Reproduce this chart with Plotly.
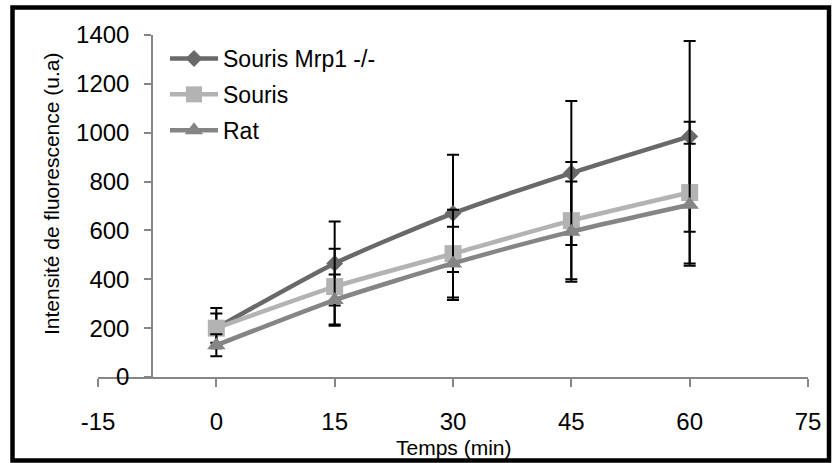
import plotly.graph_objects as go

# ---- data ----
temps = [0, 15, 30, 45, 60]

series_names = ["Souris Mrp1 -/-", "Souris", "Rat"]
mrp1_vals = [200, 465, 670, 835, 985]
mrp1_err = [82, 172, 240, 295, 390]
souris_vals = [200, 370, 505, 640, 755]
souris_err = [60, 155, 180, 240, 290]
rat_vals = [130, 315, 465, 595, 705]
rat_err = [45, 105, 150, 205, 250]

x_tick_vals = [-15, 0, 15, 30, 45, 60, 75]
x_tick_text = ["-15", "0", "15", "30", "45", "60", "75"]
y_tick_vals = [0, 200, 400, 600, 800, 1000, 1200, 1400]

x_title = "Temps (min)"
y_title = "Intensité de fluorescence (u.a)"

# ---- styles ----
FONT = "Liberation Sans, Arial, sans-serif"
colors = ["#696969", "#b3b3b3", "#858585"]
symbols = ["diamond", "square", "triangle-up"]
msizes = [13, 17, 16]
values = [mrp1_vals, souris_vals, rat_vals]
errors = [mrp1_err, souris_err, rat_err]

W, H = 832, 463
ML, MR, MT, MB = 98, 24, 35, 86
pw = W - ML - MR
ph = H - MT - MB


def px_x(p):
    return (p - ML) / pw


def px_y(p):
    return (H - MB - p) / ph


fig = go.Figure()
for i in range(3):
    fig.add_trace(go.Scatter(
        x=temps, y=values[i], name=series_names[i],
        mode="lines+markers",
        line=dict(color=colors[i], width=4.5, shape="spline", smoothing=0.6),
        marker=dict(symbol=symbols[i], size=msizes[i], color=colors[i], line=dict(width=0)),
        error_y=dict(type="data", array=errors[i], visible=True,
                     color="black", thickness=2, width=6),
        legendgroup=f"g{i}",
    ))

fig.update_layout(
    width=W, height=H,
    margin=dict(l=ML, r=MR, t=MT, b=MB, autoexpand=False),
    paper_bgcolor="white", plot_bgcolor="white",
    font=dict(family=FONT, size=24, color="black"),
    showlegend=True,
    legend=dict(x=px_x(165), y=px_y(37), xanchor="left", yanchor="top",
                bgcolor="rgba(0,0,0,0)", font=dict(size=23),
                itemwidth=48, tracegroupgap=3),
    xaxis=dict(range=[-15, 75], tickmode="array", tickvals=x_tick_vals, ticktext=x_tick_text,
               showgrid=False, zeroline=False, showline=True, linecolor="#868686", linewidth=1.5,
               ticks="outside", ticklen=8, tickcolor="#868686", tickwidth=1.5,
               ticklabelstandoff=14, tickfont=dict(size=24)),
    yaxis=dict(range=[0, 1400], tickmode="array", tickvals=y_tick_vals,
               showgrid=False, zeroline=False, showline=True, linecolor="#868686", linewidth=1.5,
               ticks="outside", ticklen=7, tickcolor="#868686", tickwidth=1.5,
               anchor="free", position=px_x(152), ticklabelstandoff=10,
               tickfont=dict(size=24)),
    annotations=[
        dict(text=x_title, xref="paper", yref="paper", x=px_x(454), y=px_y(448),
             showarrow=False, font=dict(size=21), xanchor="center", yanchor="middle"),
        dict(text=y_title, xref="paper", yref="paper", x=px_x(51), y=px_y(194),
             showarrow=False, font=dict(size=21), textangle=-90,
             xanchor="center", yanchor="middle"),
    ],
    shapes=[
        dict(type="rect", xref="paper", yref="paper",
             x0=px_x(12.5), x1=px_x(829), y0=px_y(460.5), y1=px_y(7.5),
             line=dict(color="black", width=4.5), fillcolor="rgba(0,0,0,0)", layer="above"),
    ],
)

fig.write_html("out.html", config={"displayModeBar": False},
               post_script="document.body.style.margin='0';document.body.style.overflow='hidden';")
